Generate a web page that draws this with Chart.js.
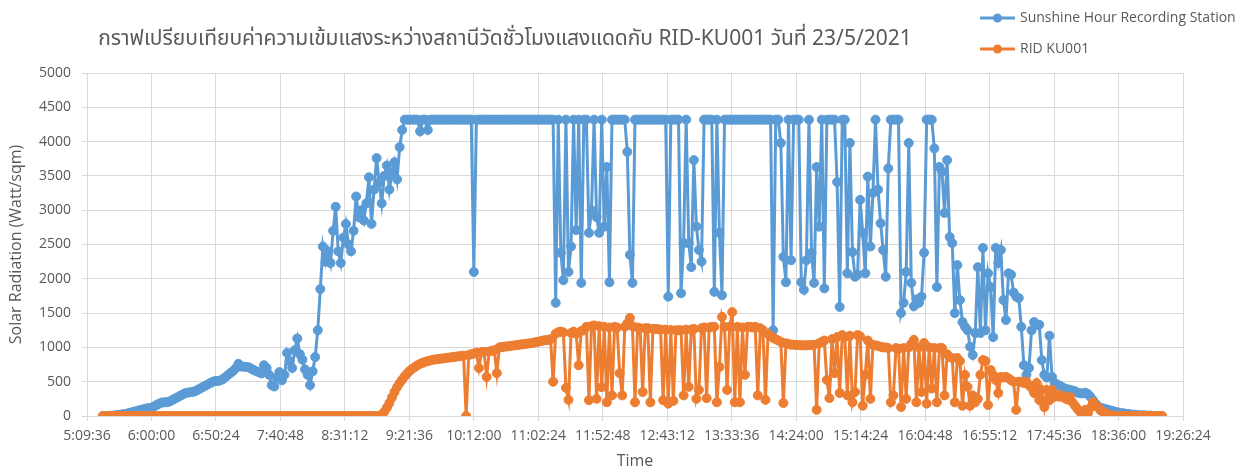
<!DOCTYPE html>
<html>
<head>
<meta charset="utf-8">
<script src="https://cdn.jsdelivr.net/npm/chart.js@4/dist/chart.umd.min.js"></script>
<style>
html,body{margin:0;padding:0;background:#fff;}
#wrap{width:1244px;height:471px;position:relative;}
canvas{display:block;}
</style>
</head>
<body>
<div id="wrap"><canvas id="c" width="1244" height="471"></canvas></div>
<script>
// ---- DATA ----
const chartTitle = 'กราฟเปรียบเทียบค่าความเข้มแสงระหว่างสถานีวัดชั่วโมงแสงแดดกับ RID-KU001 วันที่ 23/5/2021';
const seriesNames = ['Sunshine Hour Recording Station', 'RID KU001'];

// sample times, minutes after midnight
const timeMinutes = [
322,324,326,328,330,332,334,336,338,340,
342,344,346,348,350,352,354,356,358,360,
362,364,366,368,370,372,374,376,378,380,
382,384,386,388,390,392,394,396,398,400,
402,404,406,408,410,412,414,416,418,420,
422,424,426,428,430,432,434,436,438,440,
442,444,446,448,450,452,454,456,458,460,
462,464,466,468,470,472,474,476,478,480,
482,484,486,488,490,492,494,496,498,500,
502,504,506,508,510,512,514,516,518,520,
522,524,526,528,530,532,534,536,538,540,
542,544,546,548,550,552,554,556,558,560,
562,564,566,568,570,572,574,576,578,580,
582,584,586,588,590,592,594,596,598,600,
602,604,606,608,610,612,614,616,618,620,
622,624,626,628,630,632,634,636,638,640,
642,644,646,648,650,652,654,656,658,660,
662,664,666,668,670,672,674,676,678,680,
682,684,686,688,690,692,694,696,698,700,
702,704,706,708,710,712,714,716,718,720,
722,724,726,728,730,732,734,736,738,740,
742,744,746,748,750,752,754,756,758,760,
762,764,766,768,770,772,774,776,778,780,
782,784,786,788,790,792,794,796,798,800,
802,804,806,808,810,812,814,816,818,820,
822,824,826,828,830,832,834,836,838,840,
842,844,846,848,850,852,854,856,858,860,
862,864,866,868,870,872,874,876,878,880,
882,884,886,888,890,892,894,896,898,900,
902,904,906,908,910,912,914,916,918,920,
922,924,926,928,930,932,934,936,938,940,
942,944,946,948,950,952,954,956,958,960,
962,964,966,968,970,972,974,976,978,980,
982,984,986,988,990,992,994,996,998,1000,
1002,1004,1006,1008,1010,1012,1014,1016,1018,1020,
1022,1024,1026,1028,1030,1032,1034,1036,1038,1040,
1042,1044,1046,1048,1050,1052,1054,1056,1058,1060,
1062,1064,1066,1068,1070,1072,1074,1076,1078,1080,
1082,1084,1086,1088,1090,1092,1094,1096,1098,1100,
1102,1104,1106,1108,1110,1112,1114,1116,1118,1120,
1122,1124,1126,1128,1130,1132,1134,1136,1138,1140,
1142,1144,1146,1148,1150
];

const sunshineStation = [
0,0,0,5,5,10,15,20,25,30,
40,50,60,70,80,90,100,110,115,120,
140,160,180,195,200,200,210,230,250,270,
290,310,330,340,345,350,360,380,400,420,
440,460,480,500,510,510,520,540,570,600,
630,660,700,760,720,720,715,710,690,670,
650,640,620,740,700,600,450,430,560,640,
520,600,920,800,700,960,1130,900,820,680,
600,450,650,860,1250,1850,2470,2250,2400,2230,
2700,3050,2400,2230,2600,2800,2500,2400,2700,3200,
2900,3000,2850,3100,3480,2800,3300,3760,3400,3100,
3500,3650,3300,3550,3700,3450,3920,4170,4320,4320,
4320,4320,4320,4320,4150,4320,4320,4170,4320,4320,
4320,4320,4320,4320,4320,4320,4320,4320,4320,4320,
4320,4320,4320,4320,4320,2100,4320,4320,4320,4320,
4320,4320,4320,4320,4320,4320,4320,4320,4320,4320,
4320,4320,4320,4320,4320,4320,4320,4320,4320,4320,
4320,4320,4320,4320,4320,4320,4320,1650,4320,2380,
1980,4320,2100,2470,4320,2710,4320,1940,4320,4320,
2670,3000,4320,2900,2670,4320,2760,3630,1950,4320,
4320,4320,4320,4320,4320,3850,2350,1940,4320,4320,
4320,4320,4320,4320,4320,4320,4320,4320,4320,4320,
4320,1740,4320,4320,4320,4320,1790,2520,4320,2520,
2170,3730,2760,2420,2250,4320,4320,4320,4320,1810,
4320,2670,1760,4320,4320,4320,4320,4320,4320,4320,
4320,4320,4320,4320,4320,4320,4320,4320,4320,4320,
4320,4320,1250,4320,4320,3980,2320,1950,4320,2270,
4320,4320,4320,1950,1840,2270,4320,2380,1940,3630,
2760,4320,1860,4320,4320,4320,4320,3410,1590,4320,
4320,2080,3980,2390,2030,2060,3150,2670,2080,3490,
2470,3250,4320,3300,2810,2420,2030,3610,4320,4320,
4320,4320,1500,1650,2100,3980,1940,1600,1700,1650,
1740,2380,4320,4320,4320,3900,1880,3630,3560,2960,
3730,2610,2520,1500,2200,1690,1370,1300,1250,1010,
890,1210,2170,1210,2450,1250,2080,1880,1150,2450,
2230,2420,1690,1400,2080,2060,1800,1740,1720,1300,
740,600,700,1250,1370,1330,1330,815,600,560,
1170,570,480,460,440,420,400,390,380,370,
360,340,330,330,340,320,280,230,180,140,
120,110,100,90,80,70,60,50,40,40,
30,30,20,20,15,10,10,10,5,5,
5,0,0,0,0
];

const ridKU001 = [
0,0,0,0,0,0,0,0,0,0,
0,0,0,0,0,0,0,0,0,0,
0,0,0,0,0,0,0,0,0,0,
0,0,0,0,0,0,0,0,0,0,
0,0,0,0,0,0,0,0,0,0,
0,0,0,0,0,0,0,0,0,0,
0,0,0,0,0,0,0,0,0,0,
0,0,0,0,0,0,0,0,0,0,
0,0,0,0,0,0,0,0,0,0,
0,0,0,0,0,0,0,0,0,0,
0,0,0,0,0,0,0,0,0,20,
60,120,190,270,350,420,480,530,580,620,
660,690,715,740,760,775,790,800,810,820,
825,830,835,840,845,850,855,860,865,870,
875,880,0,890,900,910,925,700,930,935,
570,940,950,960,625,1000,1005,1010,1015,1020,
1025,1030,1035,1040,1045,1050,1055,1060,1065,1075,
1080,1090,1100,1105,1110,1120,500,1200,1220,1230,
1220,410,235,1210,1230,1200,740,1240,1250,1300,
230,1310,1320,250,1310,420,1300,200,1290,300,
1300,1290,625,300,1300,1350,1430,1310,200,1290,
1280,350,1280,1280,200,1270,1270,1265,1260,230,
1260,180,1255,220,1250,1250,1250,300,1260,425,
1260,1270,250,380,1280,1290,260,1290,1300,1300,
200,715,1445,1300,380,1300,1515,200,1300,200,
1290,600,1300,1300,1290,1300,300,1280,1250,235,
1200,1160,1140,1120,1100,1080,190,1060,1050,1040,
1040,1035,1035,1030,1030,1030,1035,1035,1040,90,
1060,1080,1100,525,260,1120,625,1150,335,1180,
1150,300,1170,200,350,1180,1160,150,600,1100,
250,1035,1030,1020,1010,1000,1000,990,200,300,
990,980,130,990,250,1000,1050,1110,200,1000,
350,1065,180,1000,400,990,200,990,990,300,
900,860,845,200,845,800,150,600,425,150,
300,200,250,600,815,800,160,670,600,525,
335,570,560,570,550,520,500,90,500,500,
480,500,450,410,335,480,235,380,130,380,
230,380,280,300,280,300,260,240,280,200,
150,100,60,20,90,40,120,200,150,130,
80,60,40,20,10,5,0,0,0,0,
0,0,0,0,0,0,0,0,0,0,
0,0,0,0,0
];

// axis settings (seconds after midnight): 5:09:36 .. 19:26:24, step 50:24
const xMinSec = 18576, xMaxSec = 69984, xStepSec = 3024;
const yMin = 0, yMax = 5000, yStep = 500;
const axisTitles = {x: 'Time', y: 'Solar Radiation (Watt/sqm)'};

const colors = ['#5B9BD5', '#ED7D31'];
const textColor = '#595959';
const FONT = "'Open Sans', 'Noto Sans', 'Liberation Sans', sans-serif";
const THAI_FONT = "'Noto Sans Thai', 'Noto Sans Thai UI', 'Leelawadee UI', 'Tahoma', 'Open Sans', 'Noto Sans', sans-serif";

function fmtTime(sec) {
  const s = Math.round(sec);
  const h = Math.floor(s / 3600);
  const m = Math.floor((s % 3600) / 60);
  const ss = s % 60;
  return h + ':' + String(m).padStart(2, '0') + ':' + String(ss).padStart(2, '0');
}

const sunPts = timeMinutes.map((m, i) => ({x: m * 60, y: sunshineStation[i]}));
const ridPts = timeMinutes.map((m, i) => ({x: m * 60, y: ridKU001[i]}));

const decorPlugin = {
  id: 'decor',
  afterDraw(chart) {
    const ctx = chart.ctx;
    ctx.save();
    // title
    ctx.fillStyle = textColor;
    ctx.font = "21px " + THAI_FONT;
    ctx.textAlign = 'center';
    ctx.textBaseline = 'middle';
    ctx.fillText(chartTitle, 505, 41);
    // legend
    const items = [{y: 18, c: colors[0], t: seriesNames[0]}, {y: 49, c: colors[1], t: seriesNames[1]}];
    items.forEach(it => {
      ctx.strokeStyle = it.c;
      ctx.lineWidth = 3;
      ctx.beginPath();
      ctx.moveTo(980, it.y);
      ctx.lineTo(1015, it.y);
      ctx.stroke();
      ctx.fillStyle = it.c;
      ctx.beginPath();
      ctx.arc(997.5, it.y, 4.5, 0, Math.PI * 2);
      ctx.fill();
      ctx.fillStyle = textColor;
      ctx.font = "14px " + FONT;
      ctx.textAlign = 'left';
      ctx.textBaseline = 'middle';
      ctx.fillText(it.t, 1020, it.y);
    });
    ctx.restore();
  }
};

new Chart(document.getElementById('c'), {
  type: 'line',
  data: {
    datasets: [
      {
        label: seriesNames[0], data: sunPts, order: 1,
        borderColor: colors[0], backgroundColor: colors[0],
        borderWidth: 3, pointRadius: 4.5, pointBorderWidth: 1,
        pointBackgroundColor: colors[0], pointBorderColor: colors[0],
        tension: 0, fill: false
      },
      {
        label: seriesNames[1], data: ridPts, order: 0,
        borderColor: colors[1], backgroundColor: colors[1],
        borderWidth: 3, pointRadius: 4.5, pointBorderWidth: 1,
        pointBackgroundColor: colors[1], pointBorderColor: colors[1],
        tension: 0, fill: false
      }
    ]
  },
  options: {
    responsive: false,
    animation: false,
    events: [],
    layout: {padding: {left: 5, right: 61, top: 73, bottom: 0}},
    plugins: {legend: {display: false}, title: {display: false}, tooltip: {enabled: false}},
    scales: {
      x: {
        type: 'linear', min: xMinSec, max: xMaxSec,
        ticks: {
          stepSize: xStepSec, autoSkip: false, maxRotation: 0, minRotation: 0,
          color: textColor, font: {family: FONT, size: 14}, padding: 7,
          callback: v => fmtTime(v)
        },
        grid: {color: '#D9D9D9', lineWidth: 1, tickLength: 5},
        border: {color: '#D9D9D9'},
        title: {display: true, text: axisTitles.x, color: textColor, font: {family: FONT, size: 16}, padding: {top: 0, bottom: 0}},
        afterFit: s => { s.height = 55; }
      },
      y: {
        type: 'linear', min: yMin, max: yMax,
        ticks: {stepSize: yStep, color: textColor, font: {family: FONT, size: 14}, padding: 11,
          callback: v => String(v)},
        grid: {color: '#D9D9D9', lineWidth: 1, tickLength: 5},
        border: {display: false},
        title: {display: true, text: axisTitles.y, color: textColor, font: {family: FONT, size: 16}, padding: {top: 2, bottom: 0}},
        afterFit: s => { s.width = 82; }
      }
    }
  },
  plugins: [decorPlugin]
});
</script>
</body>
</html>
